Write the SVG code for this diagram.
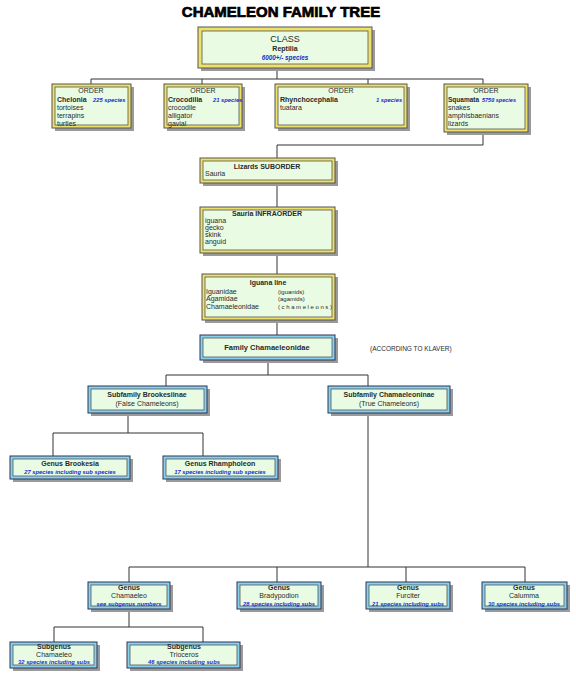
<svg xmlns="http://www.w3.org/2000/svg" width="576" height="680" viewBox="0 0 576 680">
<style>
text{font-family:"Liberation Sans",Arial,sans-serif;font-size:7px;fill:#2a2a2a}
.c{text-anchor:middle}
.b{font-weight:bold}
.sp{fill:#1a2acc;font-style:italic;font-weight:bold;font-size:5.8px}
.sh{fill:#9a9a9a}
.oy{fill:#efe168;stroke:#555;stroke-width:1}
.ob{fill:#86d2ee;stroke:#335;stroke-width:1}
.in{fill:#e9fbe3;stroke:#555;stroke-width:0.8}
.conn{fill:none;stroke:#333;stroke-width:1}
</style>
<rect width="576" height="680" fill="#fff"/>
<text x="281" y="17" class="c b" style="font-size:15px;fill:#000;stroke:#000;stroke-width:0.7">CHAMELEON FAMILY TREE</text>

<g id="connectors" class="conn">
<path d="M277 68V79M91 79H483M91 79V84M202 79V84M368 79V84M483 79V84"/>
<path d="M483 132V145H277V158M277 183V207M277 253V274M277 320V335"/>
<path d="M268 360V375M166 375H368M166 375V386M368 375V386"/>
<path d="M128 413V433M53 433H203M53 433V456M203 433V456"/>
<path d="M368 413V567M129 567H525M129 567V582M277 567V582M406 567V582M525 567V582"/>
<path d="M129 609V627M54 627H203M54 627V642M203 627V642"/>
</g>

<g id="class">
<rect class="sh" x="201" y="30" width="174" height="41"/>
<rect class="oy" x="198" y="27" width="174" height="41"/>
<rect class="in" x="202" y="31" width="166" height="33"/>
<text x="285" y="42" class="c" style="font-size:9px">CLASS</text>
<text x="285" y="51" class="c b">Reptilia</text>
<text x="285" y="60" class="c sp" style="font-size:6.3px">6000+/- species</text>
</g>

<g id="order-chelonia">
<rect class="sh" x="55" y="87" width="79" height="44"/>
<rect class="oy" x="52" y="84" width="79" height="44"/>
<rect class="in" x="55" y="87" width="73" height="38"/>
<text x="91" y="93" class="c">ORDER</text>
<text x="57" y="102" class="b">Chelonia</text>
<text x="93" y="102" class="sp">225 species</text>
<text x="57" y="110">tortoises</text>
<text x="57" y="118">terrapins</text>
<text x="57" y="126">turtles</text>
</g>

<g id="order-crocodilia">
<rect class="sh" x="167" y="87" width="78" height="44"/>
<rect class="oy" x="164" y="84" width="78" height="44"/>
<rect class="in" x="167" y="87" width="72" height="38"/>
<text x="203" y="93" class="c">ORDER</text>
<text x="168" y="102" class="b">Crocodilia</text>
<text x="213" y="102" class="sp">21 species</text>
<text x="168" y="110">crocodile</text>
<text x="168" y="118">alligator</text>
<text x="168" y="126">gavial</text>
</g>

<g id="order-rhynchocephalia">
<rect class="sh" x="278" y="87" width="132" height="44"/>
<rect class="oy" x="275" y="84" width="132" height="44"/>
<rect class="in" x="278" y="87" width="126" height="38"/>
<text x="341" y="93" class="c">ORDER</text>
<text x="280" y="102" class="b">Rhynchocephalia</text>
<text x="376" y="102" class="sp">1 species</text>
<text x="280" y="110">tuatara</text>
</g>

<g id="order-squamata">
<rect class="sh" x="447" y="87" width="84" height="48"/>
<rect class="oy" x="444" y="84" width="84" height="48"/>
<rect class="in" x="447" y="87" width="78" height="42"/>
<text x="486" y="93" class="c">ORDER</text>
<text x="448" y="102" class="b" style="font-size:6.5px">Squamata</text>
<text x="482" y="102" class="sp" style="font-size:5.5px">5750 species</text>
<text x="448" y="110">snakes</text>
<text x="448" y="118">amphisbaenians</text>
<text x="448" y="126">lizards</text>
</g>

<g id="suborder">
<rect class="sh" x="203" y="161" width="135" height="25"/>
<rect class="oy" x="200" y="158" width="135" height="25"/>
<rect class="in" x="203" y="161" width="129" height="19"/>
<text x="267" y="169" class="c b">Lizards SUBORDER</text>
<text x="205" y="176">Sauria</text>
</g>

<g id="infraorder">
<rect class="sh" x="203" y="210" width="135" height="46"/>
<rect class="oy" x="200" y="207" width="135" height="46"/>
<rect class="in" x="203" y="210" width="129" height="40"/>
<text x="267" y="216" class="c b">Sauria INFRAORDER</text>
<text x="205" y="223">iguana</text>
<text x="205" y="230">gecko</text>
<text x="205" y="237">skink</text>
<text x="205" y="244">anguid</text>
</g>

<g id="iguana-line">
<rect class="sh" x="205" y="277" width="133" height="46"/>
<rect class="oy" x="202" y="274" width="133" height="46"/>
<rect class="in" x="205" y="277" width="127" height="40"/>
<text x="268" y="285" class="c b">Iguana line</text>
<text x="206" y="294">Iguanidae</text>
<text x="206" y="301">Agamidae</text>
<text x="206" y="309">Chamaeleonidae</text>
<text x="278" y="294" style="font-size:6px">(iguanids)</text>
<text x="278" y="301" style="font-size:6px">(agamids)</text>
<text x="278" y="309" style="font-size:6px;letter-spacing:1.6px">(chameleons)</text>
</g>

<g id="family">
<rect class="sh" x="203" y="338" width="135" height="25"/>
<rect class="ob" x="200" y="335" width="135" height="25"/>
<rect class="in" x="203" y="338" width="129" height="19"/>
<text x="267" y="350" class="c b" style="font-size:7.5px">Family Chamaeleonidae</text>
</g>
<text x="370" y="351" style="font-size:6.5px">(ACCORDING TO KLAVER)</text>

<g id="subfamily-brookesiinae">
<rect class="sh" x="91" y="389" width="119" height="27"/>
<rect class="ob" x="88" y="386" width="119" height="27"/>
<rect class="in" x="91" y="389" width="113" height="21"/>
<text x="147" y="397" class="c b">Subfamily Brookesiinae</text>
<text x="147" y="406" class="c">(False Chameleons)</text>
</g>

<g id="subfamily-chamaeleoninae">
<rect class="sh" x="331" y="389" width="122" height="27"/>
<rect class="ob" x="328" y="386" width="122" height="27"/>
<rect class="in" x="331" y="389" width="116" height="21"/>
<text x="389" y="397" class="c b">Subfamily Chamaeleoninae</text>
<text x="389" y="406" class="c">(True Chameleons)</text>
</g>

<g id="genus-brookesia">
<rect class="sh" x="13" y="459" width="120" height="23"/>
<rect class="ob" x="10" y="456" width="120" height="23"/>
<rect class="in" x="13" y="459" width="114" height="17"/>
<text x="70" y="466" class="c b">Genus Brookesia</text>
<text x="70" y="474" class="c sp">27 species including sub species</text>
</g>

<g id="genus-rhampholeon">
<rect class="sh" x="166" y="459" width="115" height="23"/>
<rect class="ob" x="163" y="456" width="115" height="23"/>
<rect class="in" x="166" y="459" width="109" height="17"/>
<text x="220" y="466" class="c b">Genus Rhampholeon</text>
<text x="220" y="474" class="c sp">17 species including sub species</text>
</g>

<g id="genus-chamaeleo">
<rect class="sh" x="91" y="585" width="82" height="27"/>
<rect class="ob" x="88" y="582" width="82" height="27"/>
<rect class="in" x="91" y="585" width="76" height="21"/>
<text x="129" y="590" class="c b">Genus</text>
<text x="129" y="598" class="c">Chamaeleo</text>
<text x="129" y="606" class="c sp">see subgenus numbers</text>
</g>

<g id="genus-bradypodion">
<rect class="sh" x="240" y="585" width="84" height="27"/>
<rect class="ob" x="237" y="582" width="84" height="27"/>
<rect class="in" x="240" y="585" width="78" height="21"/>
<text x="279" y="590" class="c b">Genus</text>
<text x="279" y="598" class="c">Bradypodion</text>
<text x="279" y="606" class="c sp">28 species including subs</text>
</g>

<g id="genus-furciter">
<rect class="sh" x="369" y="585" width="84" height="27"/>
<rect class="ob" x="366" y="582" width="84" height="27"/>
<rect class="in" x="369" y="585" width="78" height="21"/>
<text x="408" y="590" class="c b">Genus</text>
<text x="408" y="598" class="c">Furciter</text>
<text x="408" y="606" class="c sp">21 species including subs</text>
</g>

<g id="genus-calumma">
<rect class="sh" x="485" y="585" width="85" height="27"/>
<rect class="ob" x="482" y="582" width="85" height="27"/>
<rect class="in" x="485" y="585" width="79" height="21"/>
<text x="524" y="590" class="c b">Genus</text>
<text x="524" y="598" class="c">Calumma</text>
<text x="524" y="606" class="c sp">30 species including subs</text>
</g>

<g id="subgenus-chamaeleo">
<rect class="sh" x="13" y="645" width="87" height="26"/>
<rect class="ob" x="10" y="642" width="87" height="26"/>
<rect class="in" x="13" y="645" width="81" height="20"/>
<text x="54" y="649" class="c b">Subgenus</text>
<text x="54" y="657" class="c">Chamaeleo</text>
<text x="54" y="664" class="c sp">32 species including subs</text>
</g>

<g id="subgenus-trioceros">
<rect class="sh" x="130" y="645" width="113" height="26"/>
<rect class="ob" x="127" y="642" width="113" height="26"/>
<rect class="in" x="130" y="645" width="107" height="20"/>
<text x="184" y="649" class="c b">Subgenus</text>
<text x="184" y="657" class="c">Trioceros</text>
<text x="184" y="664" class="c sp">46 species including subs</text>
</g>
</svg>
